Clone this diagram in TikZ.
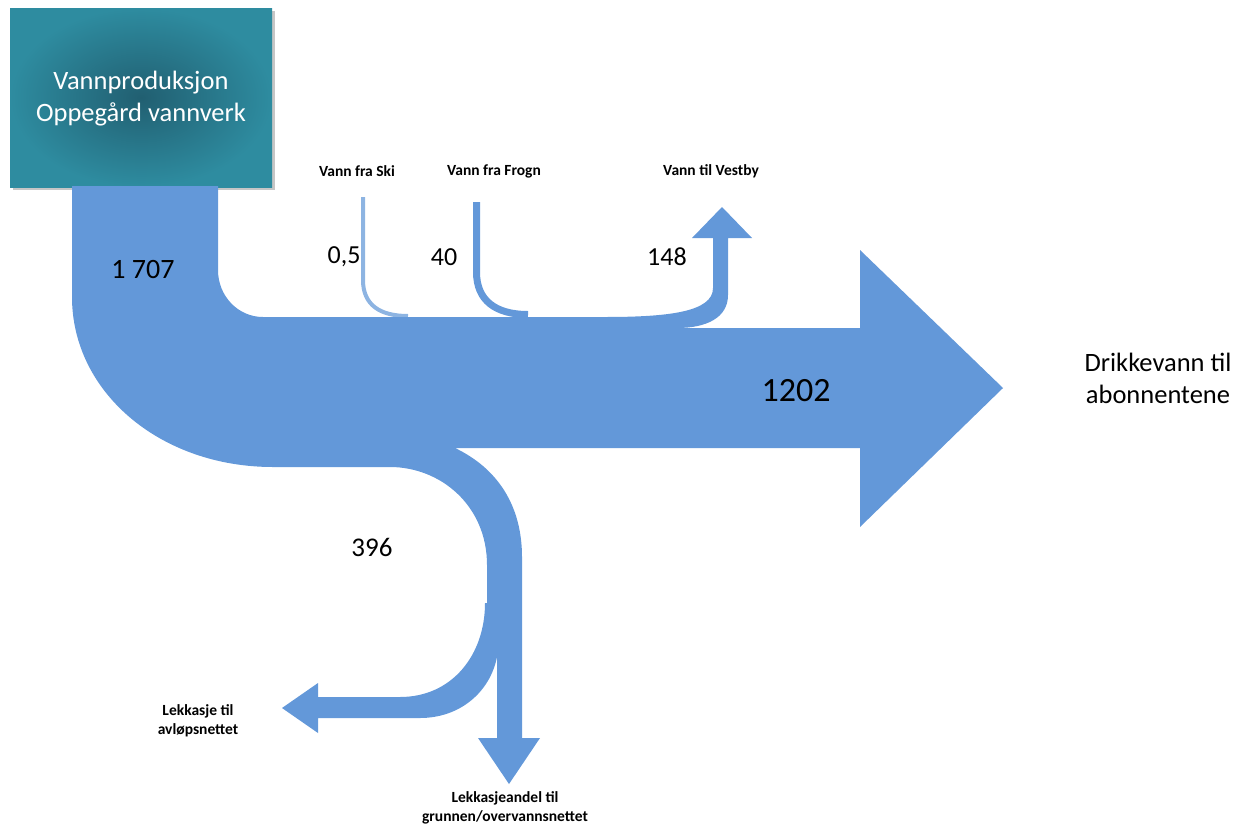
\documentclass[tikz,border=0pt]{standalone}
\usepackage{fontspec}
\setmainfont{Carlito}
\usetikzlibrary{shadows}
\definecolor{flow}{HTML}{6398D9}
\definecolor{flowlight}{HTML}{8DB4E2}
\definecolor{tealin}{HTML}{215F71}
\definecolor{tealout}{HTML}{2E8CA0}
\tikzset{
  flowfill/.style={fill=flow, draw=none},
  numlabel/.style={font=\fontsize{26}{30}\selectfont, text=black, inner sep=0pt},
  smalllabel/.style={font=\bfseries\fontsize{15.5}{19}\selectfont, text=black, inner sep=0pt, align=center},
  bigtext/.style={font=\fontsize{26.5}{32}\selectfont, inner sep=0pt, align=center},
}
\begin{document}
\begin{tikzpicture}[x=1pt,y=-1pt]
\useasboundingbox (0,0) rectangle (1236,825);
% source box
\path[inner color=tealin, outer color=tealout, drop shadow={opacity=0.45, shadow xshift=3pt, shadow yshift=-3pt}]
  (10,8) rectangle (272,187);
\node[bigtext, text=white] (src) at (141,99) {Vannproduksjon\\Oppegård vannverk};
% incoming thin flows
\draw[flowlight, line width=4pt] (363,197) -- (363,280) .. controls (363,305) and (380,316) .. (408,316);
\draw[flow, line width=7pt] (476.5,202) -- (476.5,272) .. controls (476.5,300) and (495,314.5) .. (528,314.5);
% main flow shape
\path[flowfill]
  (72,186) -- (218,186) -- (218,270)
  .. controls (218,296) and (238,317) .. (263,317)
  -- (605,317)
  .. controls (668,317) and (713,312) .. (713,288)
  -- (713,238) -- (692,238) -- (722,207) -- (752,238) -- (728,238) -- (728,295)
  .. controls (728,318) and (706,328) .. (677,328)
  -- (860,328) -- (860,250) -- (1003,388) -- (860,527) -- (860,448)
  -- (455,448)
  .. controls (497,468) and (522,505) .. (522,557)
  -- (522,738) -- (540,738) -- (509,784) -- (478,738) -- (497,738) -- (497,657)
  .. controls (490,692) and (460,718) .. (420,718)
  -- (318,718) -- (318,733) -- (282,708) -- (318,683) -- (318,697)
  -- (400,697)
  .. controls (452,697) and (485,655) .. (485,603)
  -- (487,603) -- (487,565)
  .. controls (487,505) and (440,467) .. (390,467)
  -- (273,467)
  .. controls (160,467) and (72,392) .. (72,297)
  -- cycle;
% numbers
\node[numlabel, font=\fontsize{28}{32}\selectfont] (n1707) at (143,270) {1 707};
\node[numlabel] (n05) at (344,257) {0,5};
\node[numlabel] (n40) at (444,257) {40};
\node[numlabel] (n148) at (667,257) {148};
\node[numlabel, font=\fontsize{34}{38}\selectfont] (n1202) at (796,391) {1202};
\node[numlabel, font=\fontsize{27}{30}\selectfont] (n396) at (372,547) {396};
% labels
\node[bigtext, text=black] (drikk) at (1158,378) {Drikkevann til\\abonnentene};
\node[smalllabel] (ski) at (357,171) {Vann fra Ski};
\node[smalllabel] (frogn) at (494,171) {Vann fra Frogn};
\node[smalllabel] (vestby) at (711,171) {Vann til Vestby};
\node[smalllabel] (avlop) at (198,721) {Lekkasje til\\avløpsnettet};
\node[smalllabel] (grunn) at (505,808) {Lekkasjeandel til\\grunnen/overvannsnettet};
\end{tikzpicture}
\end{document}
